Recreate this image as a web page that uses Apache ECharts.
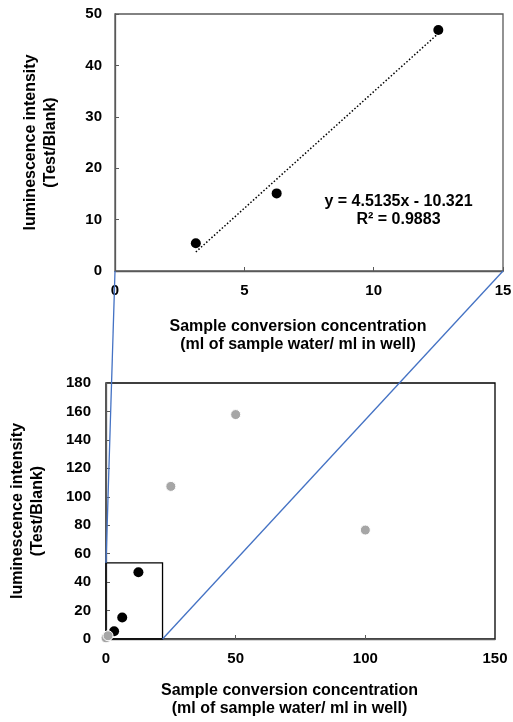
<!DOCTYPE html>
<html>
<head>
<meta charset="utf-8">
<script src="https://cdn.jsdelivr.net/npm/echarts@6/dist/echarts.min.js"></script>
<style>
  html, body { margin: 0; padding: 0; background: #fff; }
  #main { width: 513px; height: 722px; }
</style>
</head>
<body>
<div id="main"></div>
<script>
// 上图: 黑点 + 趋势线
var topX = [3.125, 6.25, 12.5];
var topY = [5.4, 15.1, 46.9];
var trendX = [3.125, 12.43];
var trendY = [3.7, 45.9];
var fitText = ['y = 4.5135x - 10.321', 'R² = 0.9883'];
var fitPos = [10.96, 11.8];

// 下图: 灰点 (全部数据)
var greyX = [0, 0.78, 25, 50, 100];
var greyY = [0.8, 2.3, 107.3, 157.8, 76.6];
var zoomBox = [21.8, 53.5]; // 放大区域 (x, y)

var xName = 'Sample conversion concentration\n(ml of sample water/ ml in well)';
var yName = 'luminescence intensity\n(Test/Blank)';

var font = 'Liberation Sans, Arial, sans-serif';
var axisColor = '#595959';

function pairs(xs, ys) {
  var out = [];
  for (var i = 0; i < xs.length; i++) out.push([xs[i], ys[i]]);
  return out;
}

function makeX(idx, max, interval, gap) {
  return {
    type: 'value', gridIndex: idx, min: 0, max: max, interval: interval,
    splitLine: { show: false },
    axisLine: { show: true, lineStyle: { color: axisColor, width: 1.3 } },
    axisTick: { show: true, inside: true, length: 4, lineStyle: { color: axisColor } },
    axisLabel: { margin: 12, color: '#000', fontFamily: font, fontWeight: 'bold', fontSize: 15 },
    name: xName, nameLocation: 'middle', nameGap: gap,
    nameTextStyle: { color: '#000', fontFamily: font, fontWeight: 'bold', fontSize: 16, lineHeight: 18, padding: [0, 22, 0, 0] }
  };
}

function makeY(idx, max, interval, gap, margin) {
  return {
    type: 'value', gridIndex: idx, min: 0, max: max, interval: interval,
    splitLine: { show: false },
    axisLine: { show: true, lineStyle: { color: axisColor, width: 1.3 } },
    axisTick: { show: true, inside: true, length: 4, lineStyle: { color: axisColor } },
    axisLabel: { margin: margin, color: '#000', fontFamily: font, fontWeight: 'bold', fontSize: 15 },
    name: yName, nameLocation: 'middle', nameGap: gap,
    nameTextStyle: { color: '#000', fontFamily: font, fontWeight: 'bold', fontSize: 16, lineHeight: 20 }
  };
}

var chart = echarts.init(document.getElementById('main'));

var option = {
  backgroundColor: '#fff',
  animation: false,
  grid: [
    { left: 115, top: 14, right: 10, bottom: 451, outerBoundsMode: 'none', show: true, borderColor: axisColor, borderWidth: 1.3, backgroundColor: 'transparent' },
    { left: 106, top: 383, right: 18, bottom: 83, outerBoundsMode: 'none', show: true, borderColor: '#000', borderWidth: 1.3, backgroundColor: 'transparent' }
  ],
  xAxis: [makeX(0, 15, 5, 47), makeX(1, 150, 50, 43)],
  yAxis: [makeY(0, 50, 10, 54, 13), makeY(1, 180, 20, 58, 15)],
  series: [
    {
      type: 'line', xAxisIndex: 0, yAxisIndex: 0,
      data: pairs(trendX, trendY), symbol: 'none', silent: true,
      lineStyle: { color: '#000', width: 1.5, type: [1.5, 2] }
    },
    {
      type: 'scatter', xAxisIndex: 0, yAxisIndex: 0,
      data: pairs(topX, topY), symbolSize: 10,
      itemStyle: { color: '#000', opacity: 1 }, z: 3
    },
    {
      type: 'scatter', xAxisIndex: 1, yAxisIndex: 1,
      data: pairs(topX, topY), symbolSize: 10,
      itemStyle: { color: '#000', opacity: 1 }, z: 3,
      markArea: {
        silent: true,
        itemStyle: { color: 'rgba(0,0,0,0)', borderColor: '#000', borderWidth: 1.3 },
        data: [[{ coord: [0, 0] }, { coord: zoomBox }]]
      }
    },
    {
      type: 'scatter', xAxisIndex: 1, yAxisIndex: 1,
      data: pairs(greyX, greyY), symbolSize: 10,
      itemStyle: { color: '#a6a6a6', opacity: 1, borderColor: '#fff', borderWidth: 1 }, z: 4
    }
  ]
};

chart.setOption(option);

// 连接线: 上图坐标轴两端 -> 下图放大框
var a0 = chart.convertToPixel({ gridIndex: 0 }, [0, 0]);
var a1 = chart.convertToPixel({ gridIndex: 1 }, [0, zoomBox[1]]);
var b0 = chart.convertToPixel({ gridIndex: 0 }, [15, 0]);
var b1 = chart.convertToPixel({ gridIndex: 1 }, [zoomBox[0], 0]);
var tp = chart.convertToPixel({ gridIndex: 0 }, fitPos);

chart.setOption({
  graphic: [
    {
      type: 'line', z: 100, silent: true,
      shape: { x1: a0[0], y1: a0[1], x2: a1[0], y2: a1[1] },
      style: { stroke: '#4472C4', lineWidth: 1.3 }
    },
    {
      type: 'line', z: 100, silent: true,
      shape: { x1: b0[0], y1: b0[1], x2: b1[0], y2: b1[1] },
      style: { stroke: '#4472C4', lineWidth: 1.3 }
    },
    {
      type: 'text', z: 100, silent: true,
      x: tp[0], y: tp[1],
      style: {
        text: fitText.join('\n'), fill: '#000', align: 'center', verticalAlign: 'middle',
        font: 'bold 16px ' + font, lineHeight: 18
      }
    }
  ]
});
</script>
</body>
</html>
